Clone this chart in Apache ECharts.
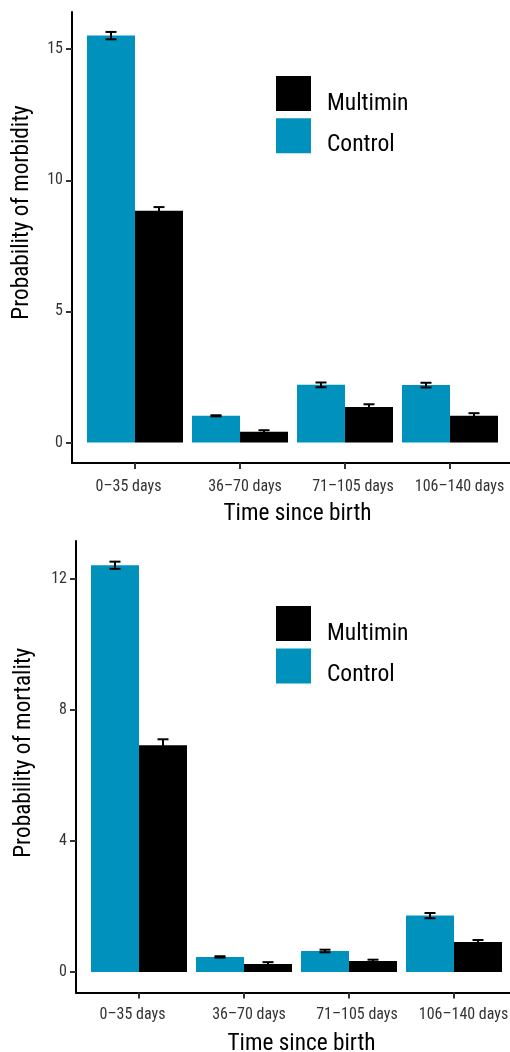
<!DOCTYPE html>
<html>
<head>
<meta charset="utf-8">
<script src="https://cdn.jsdelivr.net/npm/echarts@6/dist/echarts.min.js"></script>
<style>html,body{margin:0;padding:0;background:#fff}#c{width:510px;height:1052px}</style>
</head>
<body>
<div id="c"></div>
<script>
const categories = ['0\u201335 days', '36\u201370 days', '71\u2013105 days', '106\u2013140 days'];
const seriesNames = ['Multimin', 'Control'];
const morbidityControl = [15.52, 1.02, 2.20, 2.19];
const morbidityControlErr = [0.14, 0.02, 0.09, 0.09];
const morbidityMultimin = [8.84, 0.41, 1.36, 1.02];
const morbidityMultiminErr = [0.14, 0.06, 0.10, 0.10];
const mortalityControl = [12.41, 0.46, 0.64, 1.72];
const mortalityControlErr = [0.11, 0.02, 0.04, 0.08];
const mortalityMultimin = [6.92, 0.24, 0.335, 0.915];
const mortalityMultiminErr = [0.18, 0.06, 0.04, 0.06];
const morbidityTicks = [0, 5, 10, 15];
const mortalityTicks = [0, 4, 8, 12];

// pick the narrowest Helvetica-like font available
const ctx = document.createElement('canvas').getContext('2d');
function emWidth(text, fam) { ctx.font = '100px ' + fam; return ctx.measureText(text).width / 100; }
function hasFont(name) {
  const t = 'Multimin Time since birth 0123';
  return Math.abs(emWidth(t, 'monospace') - emWidth(t, "'" + name + "', monospace")) > 0.5;
}
let FONT = "'Liberation Sans', Arial, Helvetica, sans-serif";
for (const f of ['Roboto Condensed', 'Liberation Sans Narrow', 'Arial Narrow']) {
  if (hasFont(f)) { FONT = "'" + f + "', 'Liberation Sans', sans-serif"; break; }
}
function fitSize(text, targetW, capPx, wWeight) {
  return wWeight * targetW / emWidth(text, FONT) + (1 - wWeight) * capPx / 0.716;
}
const TICK_FS = fitSize(categories[0], 63, 12.2, 0.6);
const TITLE_FS = (fitSize('Time since birth', 145, 16.7, 0.6) + fitSize('Probability of morbidity', 219, 16.7, 0.6)) / 2;
const LEG_FS = fitSize('Multimin', 77, 18.3, 0.6);

const BLUE = '#0091BD';
const catPos = categories.map((c, i) => i + 1);
// horizontal nudges (px) of the category labels relative to their ticks
const labelNudge = [-6.5, 5, 8, 9.5];

function barData(vals) { return vals.map((v, i) => [i + 1, v]); }
function errData(vals, errs, side) { return vals.map((v, i) => [i + 1, v - errs[i], v + errs[i], side]); }

function errRender(params, api) {
  const x = api.value(0), lo = api.value(1), hi = api.value(2), side = api.value(3);
  const p1 = api.coord([x, lo]), p2 = api.coord([x, hi]);
  const cx = p1[0] + side * 24;
  const hw = 5.5;
  const st = { stroke: '#000', lineWidth: 2 };
  return { type: 'group', children: [
    { type: 'line', shape: { x1: cx, y1: p1[1], x2: cx, y2: p2[1] }, style: st },
    { type: 'line', shape: { x1: cx - hw, y1: p1[1], x2: cx + hw, y2: p1[1] }, style: st },
    { type: 'line', shape: { x1: cx - hw, y1: p2[1], x2: cx + hw, y2: p2[1] }, style: st }
  ]};
}

const labelRich = {};
labelNudge.forEach((d, i) => {
  labelRich['l' + i] = { fontSize: TICK_FS, color: '#333', fontFamily: FONT,
    padding: d < 0 ? [0, -2 * d, 0, 0] : [0, 0, 0, 2 * d] };
});

function xAxisCfg(gi, labelCenter, titleCenter) {
  return {
    type: 'value', gridIndex: gi, min: 0.4, max: 4.6,
    axisLine: { show: true, onZero: false, lineStyle: { color: '#000', width: 2 } },
    axisTick: { show: true, customValues: catPos, length: 6, lineStyle: { color: '#333', width: 2 } },
    axisLabel: { customValues: catPos,
      formatter: v => { const i = Math.round(v) - 1; return '{l' + i + '|' + categories[i] + '}'; },
      rich: labelRich,
      fontSize: TICK_FS, color: '#333', margin: labelCenter - TICK_FS / 2, fontFamily: FONT },
    splitLine: { show: false },
    name: 'Time since birth', nameLocation: 'middle', nameGap: titleCenter - TITLE_FS / 2,
    nameTextStyle: { fontSize: TITLE_FS, color: '#000', fontFamily: FONT, padding: [0, 0, 0, 10] }
  };
}
function yAxisCfg(gi, min, max, ticks, name, centerDist, shift) {
  return {
    type: 'value', gridIndex: gi, min: min, max: max,
    axisLine: { show: true, onZero: false, lineStyle: { color: '#000', width: 2 } },
    axisTick: { show: true, customValues: ticks, length: 6, lineStyle: { color: '#333', width: 2 } },
    axisLabel: { customValues: ticks, fontSize: TICK_FS, color: '#333', margin: 9, fontFamily: FONT },
    splitLine: { show: false },
    name: name, nameLocation: 'middle', nameRotate: 90, nameGap: centerDist - TITLE_FS / 2,
    nameTextStyle: { fontSize: TITLE_FS, color: '#000', fontFamily: FONT, padding: [0, 0, 0, shift] }
  };
}
function legendCfg(top, gap) {
  return {
    data: seriesNames, left: 276, top: top, orient: 'vertical', padding: 0,
    itemWidth: 35, itemHeight: 35, itemGap: gap, icon: 'rect', selectedMode: false,
    formatter: n => '{' + (n === 'Multimin' ? 'm' : 'c') + '|' + n + '}',
    textStyle: { fontSize: LEG_FS, color: '#000', fontFamily: FONT,
      rich: {
        m: { fontSize: LEG_FS, color: '#000', fontFamily: FONT, padding: [21, 0, 0, 11] },
        c: { fontSize: LEG_FS, color: '#000', fontFamily: FONT, padding: [18, 0, 0, 11] }
      } }
  };
}

const option = {
  animation: false,
  backgroundColor: '#fff',
  grid: [
    { left: 72, top: 12, width: 441, height: 451, outerBoundsMode: 'none', containLabel: false },
    { left: 76, top: 541, width: 441, height: 451.5, outerBoundsMode: 'none', containLabel: false }
  ],
  xAxis: [xAxisCfg(0, 23.5, 51), xAxisCfg(1, 22.5, 52)],
  yAxis: [
    yAxisCfg(0, -0.78, 16.42, morbidityTicks, 'Probability of morbidity', 49.5, 50),
    yAxisCfg(1, -0.626, 13.15, mortalityTicks, 'Probability of mortality', 52, 28)
  ],
  legend: [legendCfg(76, 2.3), legendCfg(606, 2.5)],
  series: [
    { name: 'Control', type: 'bar', xAxisIndex: 0, yAxisIndex: 0, barWidth: 48, barGap: '0%', itemStyle: { color: BLUE }, data: barData(morbidityControl) },
    { name: 'Multimin', type: 'bar', xAxisIndex: 0, yAxisIndex: 0, barWidth: 48, barGap: '0%', itemStyle: { color: '#000' }, data: barData(morbidityMultimin) },
    { name: 'Control', type: 'bar', xAxisIndex: 1, yAxisIndex: 1, barWidth: 48, barGap: '0%', itemStyle: { color: BLUE }, data: barData(mortalityControl) },
    { name: 'Multimin', type: 'bar', xAxisIndex: 1, yAxisIndex: 1, barWidth: 48, barGap: '0%', itemStyle: { color: '#000' }, data: barData(mortalityMultimin) },
    { type: 'custom', xAxisIndex: 0, yAxisIndex: 0, z: 10, renderItem: errRender, encode: { x: 0, y: [1, 2] }, data: errData(morbidityControl, morbidityControlErr, -1) },
    { type: 'custom', xAxisIndex: 0, yAxisIndex: 0, z: 10, renderItem: errRender, encode: { x: 0, y: [1, 2] }, data: errData(morbidityMultimin, morbidityMultiminErr, 1) },
    { type: 'custom', xAxisIndex: 1, yAxisIndex: 1, z: 10, renderItem: errRender, encode: { x: 0, y: [1, 2] }, data: errData(mortalityControl, mortalityControlErr, -1) },
    { type: 'custom', xAxisIndex: 1, yAxisIndex: 1, z: 10, renderItem: errRender, encode: { x: 0, y: [1, 2] }, data: errData(mortalityMultimin, mortalityMultiminErr, 1) }
  ]
};
const chart = echarts.init(document.getElementById('c'), null, { renderer: 'canvas' });
chart.setOption(option);
</script>
</body>
</html>
